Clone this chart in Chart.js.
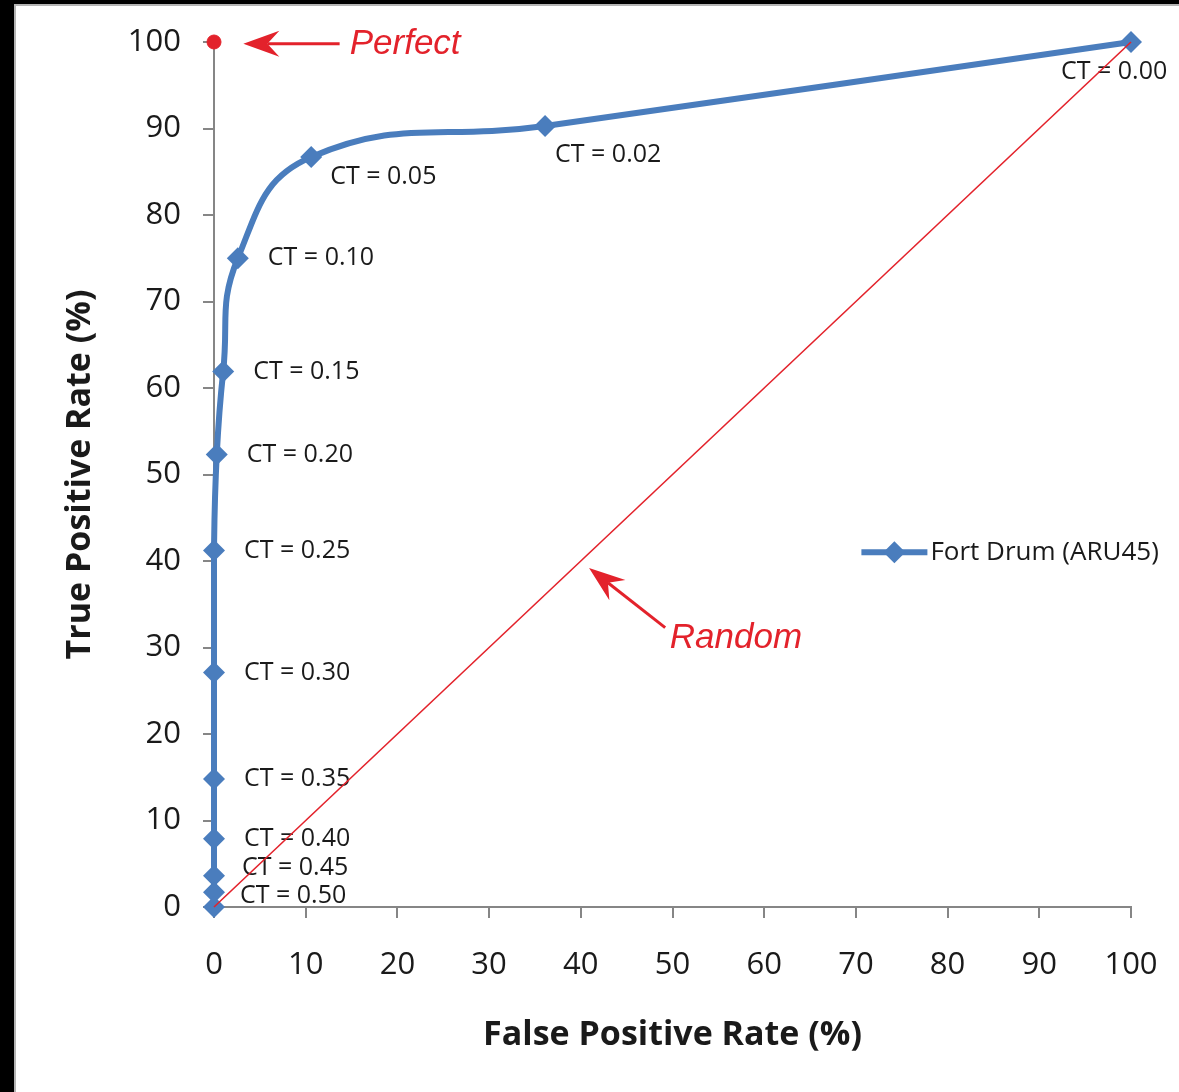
<!DOCTYPE html>
<html>
<head>
<meta charset="utf-8">
<title>ROC - Fort Drum (ARU45)</title>
<script src="https://cdn.jsdelivr.net/npm/chart.js@4.4.1/dist/chart.umd.min.js"></script>
<style>
  html, body { margin: 0; padding: 0; background: #fff; }
  #frame {
    position: absolute; left: 0; top: 0; width: 1179px; height: 1092px;
    box-sizing: border-box; border-left: 14px solid #000; border-top: 4px solid #000;
  }
  #frame-inner {
    position: absolute; left: 0; top: 0; right: 0; bottom: 0;
    border-left: 2px solid #b4b4b4; border-top: 2px solid #b4b4b4;
  }
  #roc { position: absolute; left: 0; top: 0; }
</style>
</head>
<body>
<div id="frame"><div id="frame-inner"></div></div>
<canvas id="roc" width="1179" height="1092"></canvas>
<script>
const ctLabels = ["CT = 0.00", "CT = 0.02", "CT = 0.05", "CT = 0.10", "CT = 0.15", "CT = 0.20",
  "CT = 0.25", "CT = 0.30", "CT = 0.35", "CT = 0.40", "CT = 0.45", "CT = 0.50", ""];
const falsePositive = [100, 36.1, 10.6, 2.6, 1.0, 0.3, 0, 0, 0, 0, 0, 0, 0];
const truePositive = [100, 90.3, 86.7, 75.0, 61.9, 52.3, 41.2, 27.1, 14.8, 7.9, 3.6, 1.7, 0];

// Points de référence
const perfectPoint = [0, 100];
const randomLine = [[0, 0], [100, 100]];

// Graduations des axes
const xTicks = [0, 10, 20, 30, 40, 50, 60, 70, 80, 90, 100];
const yTicks = [0, 10, 20, 30, 40, 50, 60, 70, 80, 90, 100];

const seriesName = "Fort Drum (ARU45)";

const BLUE = "#4a7dbd";
const RED = "#e3222b";
const AXIS_GREY = "#868686";
const TEXT = "#1a1a1a";

// Décalages des étiquettes CT (par défaut à droite du point)
const labelShift = {
  0: [-70, 30],
  1: [10, 29],
  2: [19, 20],
  10: [28, -8],
  11: [26, 4],
};

function toPoints(xs, ys) {
  return xs.map((x, i) => ({ x: x, y: ys[i] }));
}

// Flèche style "stealth" d'Excel
function drawArrow(ctx, x1, y1, x2, y2) {
  const ang = Math.atan2(y2 - y1, x2 - x1);
  const dx = Math.cos(ang), dy = Math.sin(ang);
  const len = 36, half = 13, notch = 24;
  ctx.save();
  ctx.strokeStyle = RED;
  ctx.fillStyle = RED;
  ctx.lineWidth = 3;
  ctx.beginPath();
  ctx.moveTo(x1, y1);
  ctx.lineTo(x2 - dx * notch, y2 - dy * notch);
  ctx.stroke();
  ctx.beginPath();
  ctx.moveTo(x2, y2);
  ctx.lineTo(x2 - dx * len - dy * half, y2 - dy * len + dx * half);
  ctx.lineTo(x2 - dx * notch, y2 - dy * notch);
  ctx.lineTo(x2 - dx * len + dy * half, y2 - dy * len - dx * half);
  ctx.closePath();
  ctx.fill();
  ctx.restore();
}

function drawDiamond(ctx, x, y, r) {
  ctx.beginPath();
  ctx.moveTo(x, y - r);
  ctx.lineTo(x + r, y);
  ctx.lineTo(x, y + r);
  ctx.lineTo(x - r, y);
  ctx.closePath();
  ctx.fill();
}

const rocAnnotations = {
  id: "rocAnnotations",
  // Étiquettes CT sous les séries (la diagonale rouge passe dessus)
  beforeDatasetsDraw(chart) {
    const ctx = chart.ctx;
    const meta = chart.getDatasetMeta(0);
    ctx.save();
    ctx.font = "25px 'Open Sans'";
    ctx.fillStyle = TEXT;
    ctx.textBaseline = "middle";
    ctx.textAlign = "left";
    meta.data.forEach((pt, i) => {
      if (!ctLabels[i]) return;
      const shift = labelShift[i] || [30, 0];
      ctx.fillText(ctLabels[i], pt.x + shift[0], pt.y + shift[1]);
    });
    ctx.restore();
  },
  afterDatasetsDraw(chart) {
    const ctx = chart.ctx;
    const sx = chart.scales.x, sy = chart.scales.y;
    const px = (v) => sx.getPixelForValue(v);
    const py = (v) => sy.getPixelForValue(v);

    // "Perfect"
    drawArrow(ctx, px(13.7), py(99.8), px(3.2), py(99.8));
    // "Random"
    drawArrow(ctx, px(49.2), py(32.3), px(40.9), py(39.2));

    ctx.save();
    ctx.fillStyle = RED;
    ctx.font = "italic 35px 'Liberation Sans'";
    ctx.textBaseline = "middle";
    ctx.textAlign = "left";
    ctx.fillText("Perfect", px(14.8), py(99.7));
    ctx.fillText("Random", px(49.7), py(31.1));
    ctx.restore();

    // Légende dans la zone de tracé
    const lx = px(70.6), ly = py(41.0);
    ctx.save();
    ctx.strokeStyle = BLUE;
    ctx.fillStyle = BLUE;
    ctx.lineWidth = 6;
    ctx.beginPath();
    ctx.moveTo(lx, ly);
    ctx.lineTo(lx + 66, ly);
    ctx.stroke();
    drawDiamond(ctx, lx + 33, ly, 11);
    ctx.fillStyle = TEXT;
    ctx.font = "26px 'Open Sans'";
    ctx.textBaseline = "middle";
    ctx.fillText(seriesName, lx + 69, ly);
    ctx.restore();
  },
};

const axisFont = { family: "'Open Sans'", size: 31 };
const titleFont = { family: "'Open Sans'", size: 34, weight: "bold" };

const config = {
  type: "scatter",
  data: {
    datasets: [
      {
        label: seriesName,
        data: toPoints(falsePositive, truePositive),
        showLine: true,
        borderColor: BLUE,
        backgroundColor: BLUE,
        borderWidth: 6,
        tension: 0.45,
        pointStyle: "rectRot",
        pointRadius: 11,
        pointBorderWidth: 0,
        pointHoverRadius: 11,
        clip: false,
        order: 1,
      },
      {
        label: "Random",
        data: randomLine.map((p) => ({ x: p[0], y: p[1] })),
        showLine: true,
        borderColor: RED,
        borderWidth: 1.6,
        pointRadius: 0,
        clip: false,
        order: 0,
      },
      {
        label: "Perfect",
        data: [{ x: perfectPoint[0], y: perfectPoint[1] }],
        backgroundColor: RED,
        borderColor: RED,
        pointRadius: 7,
        clip: false,
        order: 0,
      },
    ],
  },
  options: {
    responsive: false,
    devicePixelRatio: 1,
    animation: false,
    events: [],
    layout: { padding: { top: 42, right: 48, left: 0, bottom: 0 } },
    plugins: {
      legend: { display: false },
      tooltip: { enabled: false },
    },
    scales: {
      x: {
        type: "linear",
        min: 0,
        max: 100,
        afterBuildTicks(scale) {
          scale.ticks = xTicks.map((v) => ({ value: v }));
        },
        afterFit(scale) {
          scale.height = 185;
          scale.paddingLeft = 0;
          scale.paddingRight = 0;
        },
        grid: { drawOnChartArea: false, drawTicks: true, tickLength: 11, color: AXIS_GREY, lineWidth: 2 },
        border: { display: true, color: AXIS_GREY, width: 2 },
        ticks: { font: axisFont, color: TEXT, padding: 29, maxRotation: 0 },
        title: {
          display: true,
          text: "False Positive Rate (%)",
          font: titleFont,
          color: TEXT,
          padding: { top: 0, bottom: 36 },
        },
      },
      y: {
        type: "linear",
        min: 0,
        max: 100,
        afterBuildTicks(scale) {
          scale.ticks = yTicks.map((v) => ({ value: v }));
        },
        afterFit(scale) {
          scale.width = 214;
          scale.paddingTop = 0;
          scale.paddingBottom = 0;
        },
        grid: { drawOnChartArea: false, drawTicks: true, tickLength: 11, color: AXIS_GREY, lineWidth: 2 },
        border: { display: true, color: AXIS_GREY, width: 2 },
        ticks: { font: axisFont, color: TEXT, padding: 22 },
        title: {
          display: true,
          text: "True Positive Rate (%)",
          font: titleFont,
          color: TEXT,
          padding: { top: 60, bottom: 0 },
        },
      },
    },
  },
  plugins: [rocAnnotations],
};

new Chart(document.getElementById("roc").getContext("2d"), config);
</script>
</body>
</html>
